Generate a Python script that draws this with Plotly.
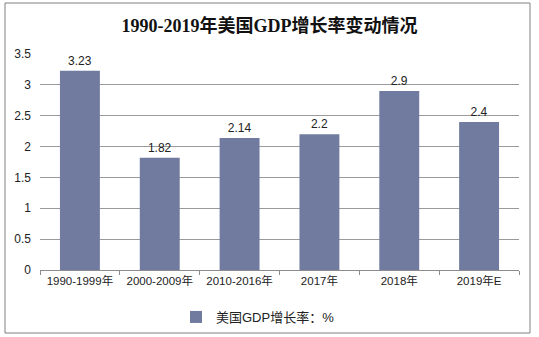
import plotly.graph_objects as go

categories = ["1990-1999年", "2000-2009年", "2010-2016年", "2017年", "2018年", "2019年E"]
values = [3.23, 1.82, 2.14, 2.2, 2.9, 2.4]
value_labels = ["3.23", "1.82", "2.14", "2.2", "2.9", "2.4"]
series_name = "美国GDP增长率：%"
title_text = "1990-2019年美国GDP增长率变动情况"

W, H = 539, 337
L, R, T, B = 40, 20, 54, 67
pw, ph = W - L - R, H - T - B

def px_x(x):
    return (x - L) / pw

def px_y(y):
    return (H - B - y) / ph

fig = go.Figure()
fig.add_trace(go.Bar(
    x=categories, y=values, name=series_name,
    marker=dict(color="#717B9F", line=dict(width=0)),
    text=value_labels, textposition="outside", cliponaxis=False,
    textfont=dict(size=12, color="#222222", family="Liberation Sans, Arial, Noto Sans CJK SC"),
    showlegend=True,
))

fig.update_layout(
    width=W, height=H,
    margin=dict(l=L, r=R, t=T, b=B, autoexpand=False),
    paper_bgcolor="white", plot_bgcolor="white",
    bargap=0.5,
    font=dict(family="Liberation Sans, Arial, Noto Sans CJK SC", size=11, color="#222222"),
    title=dict(text="<b>" + title_text + "</b>", x=0.5, xanchor="center", y=1 - 26 / H, yanchor="middle",
               font=dict(size=18, family="Liberation Serif, Noto Sans CJK SC", color="#111111")),
    showlegend=True,
    legend=dict(orientation="h", x=px_x(258), xanchor="center", y=px_y(317), yanchor="middle",
                font=dict(size=13, color="#222222"), itemwidth=30, bgcolor="rgba(0,0,0,0)"),
    xaxis=dict(showgrid=False, showline=True, linecolor="#8c8c8c", linewidth=1, automargin=False,
               ticks="outside", ticklen=4, tickcolor="#8c8c8c", tickson="boundaries",
               tickfont=dict(size=11.5, color="#222222")),
    yaxis=dict(range=[0, 3.5], dtick=0.5, showgrid=True, gridcolor="#9a9a9a", gridwidth=1, automargin=False,
               zeroline=False, showline=False, ticks="", ticklabelstandoff=8,
               tickfont=dict(size=12, color="#222222")),
    shapes=[dict(type="rect", xref="paper", yref="paper",
                 x0=px_x(5), x1=px_x(530), y0=px_y(333), y1=px_y(3),
                 line=dict(color="#808080", width=1), fillcolor="rgba(0,0,0,0)", layer="below")],
)

fig.write_html("out.html")
